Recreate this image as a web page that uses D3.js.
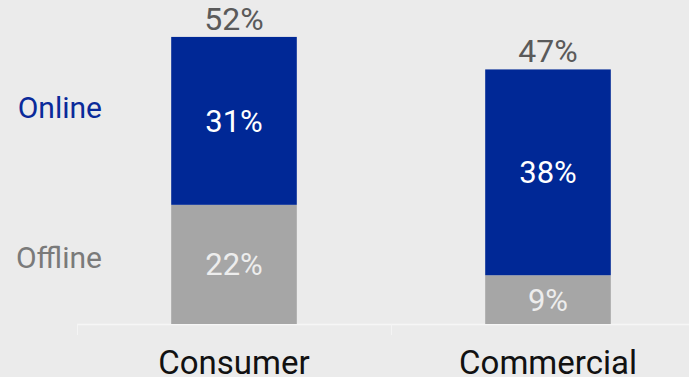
<!DOCTYPE html>
<html>
<head>
<meta charset="utf-8">
<script src="https://cdn.jsdelivr.net/npm/d3@7"></script>
<style>
  html, body { margin: 0; padding: 0; background: #ebebeb; }
  svg { display: block; font-family: Roboto, "Liberation Sans", Arial, sans-serif; }
</style>
</head>
<body>
<svg id="chart" width="689" height="377"></svg>
<script>
// Channel split by customer segment (percent)
const categories = ["Consumer", "Commercial"];
const offline = [22, 9];
const online = [31, 38];
const totals = [52, 47];
const seriesNames = ["Online", "Offline"];

const W = 689, H = 377;
const baseY = 324;

const svg = d3.select("#chart");
svg.append("rect").attr("width", W).attr("height", H).attr("fill", "#ebebeb");

const x = d3.scaleBand()
  .domain(categories)
  .range([77, 705])
  .paddingInner(0.6)
  .paddingOuter(0.3);

const y = d3.scaleLinear().domain([0, 60]).range([baseY, -1]);

const rows = categories.map((c, i) => ({ cat: c, offline: offline[i], online: online[i], total: totals[i] }));
const stack = d3.stack().keys(["offline", "online"])(rows);
const colors = { offline: "#a6a6a6", online: "#002896" };
const labelColors = { offline: "#ededed", online: "#ffffff" };

// baseline with band-boundary ticks
const gap = (x.step() - x.bandwidth()) / 2;
svg.append("line")
  .attr("x1", x(categories[0]) - gap).attr("x2", W)
  .attr("y1", baseY + 0.5).attr("y2", baseY + 0.5)
  .attr("stroke", "#f6f6f6").attr("stroke-width", 1.5);
svg.selectAll(".tk").data(categories).join("line")
  .attr("x1", d => x(d) - gap + 0.5).attr("x2", d => x(d) - gap + 0.5)
  .attr("y1", baseY).attr("y2", baseY + 11)
  .attr("stroke", "#f4f4f4").attr("stroke-width", 1);

// stacked bars
const layers = svg.selectAll(".layer").data(stack).join("g").attr("fill", d => colors[d.key]);
layers.selectAll("rect").data(d => d).join("rect")
  .attr("x", d => x(d.data.cat))
  .attr("width", x.bandwidth())
  .attr("y", d => y(d[1]))
  .attr("height", d => y(d[0]) - y(d[1]));

// segment value labels
stack.forEach(layer => {
  svg.selectAll(".lbl-" + layer.key).data(layer).join("text")
    .attr("x", d => x(d.data.cat) + x.bandwidth() / 2)
    .attr("y", d => (y(d[0]) + y(d[1])) / 2 + 11)
    .attr("text-anchor", "middle")
    .attr("font-size", 31)
    .attr("fill", labelColors[layer.key])
    .text(d => d.data[layer.key] + "%");
});

// totals above bars
svg.selectAll(".tot").data(rows).join("text")
  .attr("x", d => x(d.cat) + x.bandwidth() / 2)
  .attr("y", d => y(d.offline + d.online) - 7)
  .attr("text-anchor", "middle")
  .attr("font-size", 32)
  .attr("fill", "#5a5a5a")
  .text(d => d.total + "%");

// category axis labels
const xAxis = d3.axisBottom(x).tickSize(0).tickPadding(0);
const ax = svg.append("g").attr("transform", `translate(0,${baseY})`).call(xAxis);
ax.select(".domain").remove();
ax.selectAll("text")
  .attr("y", 50)
  .attr("dy", 0)
  .attr("font-size", 33)
  .attr("font-family", "Roboto, 'Liberation Sans', Arial, sans-serif")
  .attr("fill", "#111111");

// series legend on the left
const legendY = [118, 268];
const legendColors = ["#0a2a9a", "#7a7a7a"];
svg.selectAll(".legend").data(seriesNames).join("text")
  .attr("x", 102)
  .attr("y", (d, i) => legendY[i])
  .attr("text-anchor", "end")
  .attr("font-size", 30)
  .attr("fill", (d, i) => legendColors[i])
  .text(d => d);
</script>
</body>
</html>
